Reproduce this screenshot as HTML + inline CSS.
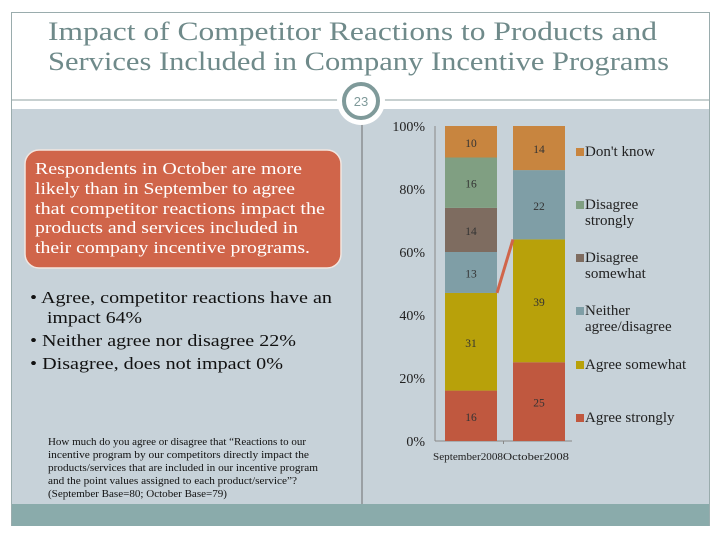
<!DOCTYPE html>
<html><head><meta charset="utf-8"><style>
body{margin:0;background:#fff;}
svg{display:block;font-family:"Liberation Serif",serif;}
</style></head><body>
<svg id="s" width="720" height="540" viewBox="0 0 720 540" xmlns="http://www.w3.org/2000/svg">
<rect x="11.5" y="12.5" width="698" height="513" fill="#fff" stroke="#9aacad"/>
<text x="48" y="40" font-size="26" fill="#6f8a8a" textLength="609" lengthAdjust="spacingAndGlyphs">Impact of Competitor Reactions to Products and</text>
<text x="48" y="70" font-size="26" fill="#6f8a8a" textLength="621" lengthAdjust="spacingAndGlyphs">Services Included in Company Incentive Programs</text>
<line x1="12" y1="100" x2="709" y2="100" stroke="#8fa0a2" stroke-width="1"/>
<rect x="12" y="109" width="697" height="395" fill="#c7d2d9"/>
<rect x="12" y="504" width="697" height="22" fill="#8aabab"/>
<line x1="362" y1="118" x2="362" y2="504" stroke="#555" stroke-width="0.8"/>
<circle cx="361" cy="101" r="24" fill="#fff"/>
<circle cx="361" cy="101" r="17" fill="#fff" stroke="#7f9a9a" stroke-width="4"/>
<text x="361" y="106" text-anchor="middle" font-size="13" fill="#7f9a9a" font-family="Liberation Sans,sans-serif">23</text>
<rect x="25" y="150" width="316" height="118" rx="14" fill="#d0654a" stroke="#f2e6e0" stroke-width="1.5"/>
<g font-size="16.5" fill="#fff">
<text x="35" y="174" textLength="267" lengthAdjust="spacingAndGlyphs">Respondents in October are more</text>
<text x="35" y="194" textLength="260" lengthAdjust="spacingAndGlyphs">likely than in September to agree</text>
<text x="35" y="214" textLength="290" lengthAdjust="spacingAndGlyphs">that competitor reactions impact the</text>
<text x="35" y="233" textLength="263" lengthAdjust="spacingAndGlyphs">products and services included in</text>
<text x="35" y="253" textLength="275" lengthAdjust="spacingAndGlyphs">their company incentive programs.</text>
</g>
<g font-size="16.5" fill="#111">
<text x="30" y="303" textLength="302" lengthAdjust="spacingAndGlyphs">• Agree, competitor reactions have an</text>
<text x="47" y="323" textLength="95" lengthAdjust="spacingAndGlyphs">impact 64%</text>
<text x="30" y="346" textLength="266" lengthAdjust="spacingAndGlyphs">• Neither agree nor disagree 22%</text>
<text x="30" y="369" textLength="253" lengthAdjust="spacingAndGlyphs">• Disagree, does not impact 0%</text>
</g>
<g font-size="10" fill="#111">
<text x="48" y="445" textLength="258" lengthAdjust="spacingAndGlyphs">How much do you agree or disagree that “Reactions to our</text>
<text x="48" y="458" textLength="261" lengthAdjust="spacingAndGlyphs">incentive program by our competitors directly impact the</text>
<text x="48" y="471" textLength="270" lengthAdjust="spacingAndGlyphs">products/services that are included in our incentive program</text>
<text x="48" y="484" textLength="249" lengthAdjust="spacingAndGlyphs">and the point values assigned to each product/service”?</text>
<text x="48" y="497" textLength="179" lengthAdjust="spacingAndGlyphs">(September Base=80; October Base=79)</text>
</g>
<g id="chart"></g>
</svg>
<script>
const categories=["September 2008","October 2008"];
const seriesNames=["Agree strongly","Agree somewhat","Neither agree/disagree","Disagree somewhat","Disagree strongly","Don't know"];
const seriesColors=["#c0583f","#b8a10a","#7f9ea6","#7e6c60","#809f82","#c8853f"];
const sepValues=[16,31,13,14,16,10];
const octValues=[25,39,22,0,0,14];
const yTicks=[0,20,40,60,80,100];
const legendLines=[["Don't know"],["Disagree","strongly"],["Disagree","somewhat"],["Neither","agree/disagree"],["Agree somewhat"],["Agree strongly"]];
const NS="http://www.w3.org/2000/svg";
const g=document.getElementById('chart');
const y0=441,y1=126,xL=435,xR=572;
const yS=v=>y0-(y0-y1)*v/100;
const barX=[445,513],barW=52;
function mk(t,a){const e=document.createElementNS(NS,t);for(const k in a)e.setAttribute(k,a[k]);g.appendChild(e);return e;}
let ax=mk('line',{x1:xL,y1:y1,x2:xL,y2:y0,stroke:'#888'});


let bx=mk('line',{x1:xL,y1:y0,x2:xR,y2:y0,stroke:'#888'});


mk('line',{x1:(xL+xR)/2,y1:y0,x2:(xL+xR)/2,y2:y0+3,stroke:'#888'});
yTicks.forEach(t=>{
  const e=mk('text',{x:425,y:yS(t)+5,'text-anchor':'end','font-size':14,fill:'#222'});
  e.textContent=t+'%';
  
  
});
const catX=[433,503],catLen=[70,66];
[sepValues,octValues].forEach((vals,ci)=>{
  let acc=0;
  vals.forEach((v,si)=>{
    if(v<=0)return;
    const r=mk('rect',{x:barX[ci],y:yS(acc+v),width:barW,height:yS(acc)-yS(acc+v),fill:seriesColors[si]});
    
    
    const t=mk('text',{x:barX[ci]+barW/2,y:(yS(acc)+yS(acc+v))/2+5,'text-anchor':'middle','font-size':11.5,fill:'#333'});
    t.textContent=v;
    
    
    acc+=v;
  });
  const c=mk('text',{x:catX[ci],y:460,'font-size':10,fill:'#222',textLength:catLen[ci],lengthAdjust:'spacingAndGlyphs'});
  c.textContent=categories[ci].replace(' ','');
  
  
});
const sAgree=sepValues[0]+sepValues[1],oAgree=octValues[0]+octValues[1];
const cl=mk('line',{x1:barX[0]+barW,y1:yS(sAgree),x2:barX[1],y2:yS(oAgree),stroke:'#d0654a','stroke-width':3});


const legendY=[156,209,262,315,369,422];
legendLines.forEach((lines,i)=>{
  const si=5-i;
  const m=mk('rect',{x:576,y:legendY[i]-8,width:8,height:8,fill:seriesColors[si]});
  
  
  lines.forEach((ln,j)=>{
    const t=mk('text',{x:585,y:legendY[i]+j*16,'font-size':15,fill:'#222'});
    t.textContent=ln;
    
    
  });
});
</script>
</body></html>
